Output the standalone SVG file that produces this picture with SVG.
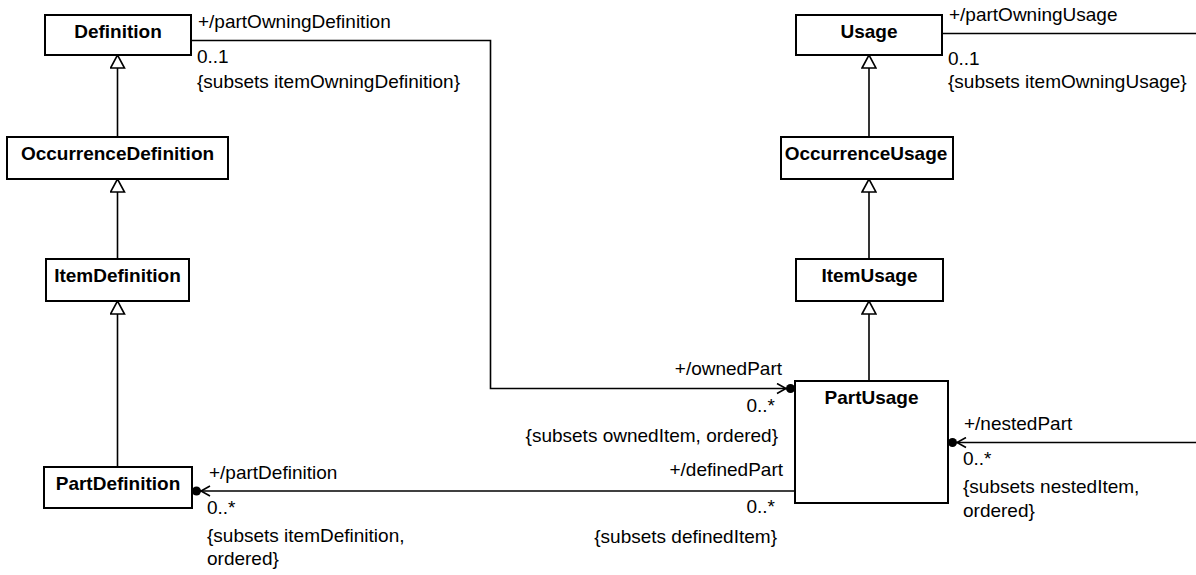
<svg xmlns="http://www.w3.org/2000/svg" width="1196" height="575" viewBox="0 0 1196 575">
<style>
.box{fill:#fff;stroke:#000;stroke-width:2}
.name{font-family:"Liberation Sans",Arial,sans-serif;font-size:19px;font-weight:bold;text-anchor:middle;fill:#000}
.lbl{font-family:"Liberation Sans",Arial,sans-serif;font-size:19px;fill:#000}
.end{text-anchor:end}
.gen{fill:none;stroke:#000;stroke-width:1.6;marker-end:url(#tri)}
.assoc{fill:none;stroke:#000;stroke-width:1.6}
.owned{marker-end:url(#dotArrow)}
</style>
<defs>
<marker id="tri" viewBox="0 0 16 16" refX="15" refY="8" markerWidth="16" markerHeight="16" markerUnits="userSpaceOnUse" orient="auto">
<path d="M2,1 L15,8 L2,15 Z" fill="#fff" stroke="#000" stroke-width="1.6"/>
</marker>
<marker id="dotArrow" viewBox="0 0 20 12" refX="20" refY="6" markerWidth="20" markerHeight="12" markerUnits="userSpaceOnUse" orient="auto">
<path d="M2,1 L11,6 L2,11" fill="none" stroke="#000" stroke-width="1.6"/>
<circle cx="15.5" cy="6" r="4.5" fill="#000"/>
</marker>
</defs>
<g id="connectors">
<path class="gen" d="M117.5,137 V55"/>
<path class="gen" d="M117.5,259 V179"/>
<path class="gen" d="M117.5,467 V301"/>
<path class="gen" d="M869,137 V55"/>
<path class="gen" d="M869,259 V179"/>
<path class="gen" d="M869,381 V301"/>
<path class="assoc owned" d="M191,40.5 H490.5 V388.5 H795"/>
<path class="assoc owned" d="M795,491 H192"/>
<path class="assoc owned" d="M1196,442.5 H948"/>
<path class="assoc" d="M942,33.5 H1196"/>
<text class="lbl" x="198" y="28">+/partOwningDefinition</text>
<text class="lbl" x="197" y="63">0..1</text>
<text class="lbl" x="197" y="88">{subsets itemOwningDefinition}</text>
<text class="lbl" x="949" y="21">+/partOwningUsage</text>
<text class="lbl" x="948" y="65">0..1</text>
<text class="lbl" x="948" y="88">{subsets itemOwningUsage}</text>
<text class="lbl end" x="782" y="375">+/ownedPart</text>
<text class="lbl end" x="775" y="412">0..*</text>
<text class="lbl end" x="778" y="442">{subsets ownedItem, ordered}</text>
<text class="lbl end" x="783" y="476">+/definedPart</text>
<text class="lbl end" x="775" y="513">0..*</text>
<text class="lbl end" x="777" y="543">{subsets definedItem}</text>
<text class="lbl" x="209" y="479">+/partDefinition</text>
<text class="lbl" x="207" y="514">0..*</text>
<text class="lbl" x="207" y="542">{subsets itemDefinition,</text>
<text class="lbl" x="207" y="565">ordered}</text>
<text class="lbl" x="964" y="430">+/nestedPart</text>
<text class="lbl" x="963" y="465">0..*</text>
<text class="lbl" x="963" y="493">{subsets nestedItem,</text>
<text class="lbl" x="963" y="517">ordered}</text>
</g>
<g id="Definition"><rect class="box" x="45" y="15" width="146" height="40"/><text class="name" x="118" y="38">Definition</text></g>
<g id="OccurrenceDefinition"><rect class="box" x="7" y="137" width="221" height="42"/><text class="name" x="117.5" y="160">OccurrenceDefinition</text></g>
<g id="ItemDefinition"><rect class="box" x="46" y="259" width="143" height="42"/><text class="name" x="117.5" y="282">ItemDefinition</text></g>
<g id="PartDefinition"><rect class="box" x="44" y="467" width="148" height="41"/><text class="name" x="118" y="490">PartDefinition</text></g>
<g id="Usage"><rect class="box" x="796" y="15" width="146" height="40"/><text class="name" x="869" y="38">Usage</text></g>
<g id="OccurrenceUsage"><rect class="box" x="781" y="137" width="172" height="42"/><text class="name" x="866" y="160">OccurrenceUsage</text></g>
<g id="ItemUsage"><rect class="box" x="796" y="259" width="147" height="42"/><text class="name" x="869.5" y="282">ItemUsage</text></g>
<g id="PartUsage"><rect class="box" x="795" y="381" width="153" height="122"/><text class="name" x="871.5" y="404">PartUsage</text></g>
</svg>
